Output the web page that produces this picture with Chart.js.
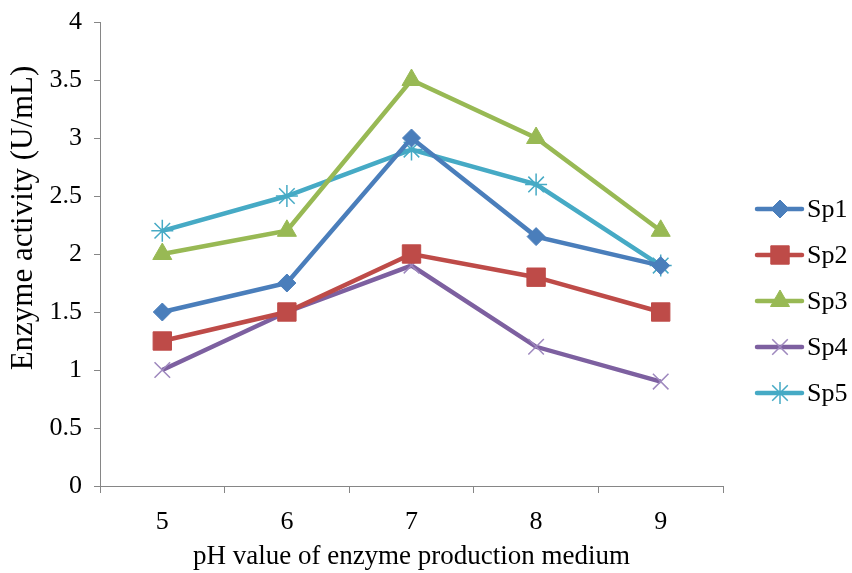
<!DOCTYPE html>
<html>
<head>
<meta charset="utf-8">
<script src="https://cdn.jsdelivr.net/npm/chart.js@4/dist/chart.umd.min.js"></script>
<style>
  html,body{margin:0;padding:0;background:#fff;}
  #wrap{width:852px;height:573px;position:relative;}
</style>
</head>
<body>
<div id="wrap"><canvas id="c" width="852" height="573"></canvas></div>
<script>
// pH categories and enzyme activity per strain
const phLabels=['5','6','7','8','9'];
const sp1=[1.5,1.75,3.0,2.15,1.9];
const sp2=[1.25,1.5,2.0,1.8,1.5];
const sp3=[2.0,2.2,3.5,3.0,2.2];
const sp4=[1.0,1.5,1.9,1.2,0.9];
const sp5=[2.2,2.5,2.9,2.6,1.9];
const seriesNames=['Sp1','Sp2','Sp3','Sp4','Sp5'];
const yTitle='Enzyme activity (U/mL)';

const FONT='"Liberation Serif", "Times New Roman", serif';

function ds(label,data,color,ptColor,style,radius){
  return {label,data,borderColor:color,backgroundColor:ptColor,pointBackgroundColor:ptColor,pointBorderColor:ptColor,
    pointStyle:style,pointRadius:radius,pointHoverRadius:radius,pointBorderWidth:style==='crossRot'||style==='star'?1.5:1,
    borderWidth:4.5,tension:0};
}

// legend drawn by hand: line + marker + name, like the office-style legend
// the y title is drawn here too since it sits above the axis middle in the original
const legendPlugin={
  id:'sideLegend',
  afterDraw(chart){
    const ctx=chart.ctx;
    chart.data.datasets.forEach((d,i)=>{
      const y=209+i*46;
      ctx.save();
      ctx.strokeStyle=d.borderColor;ctx.lineWidth=4.5;ctx.lineCap='round';
      ctx.beginPath();ctx.moveTo(757,y);ctx.lineTo(802,y);ctx.stroke();
      ctx.restore();
      ctx.save();
      ctx.fillStyle=d.pointBackgroundColor;ctx.strokeStyle=d.pointBorderColor;ctx.lineWidth=d.pointBorderWidth;
      Chart.helpers.drawPoint(ctx,{pointStyle:d.pointStyle,radius:d.pointRadius,borderWidth:d.pointBorderWidth,rotation:0},780,y);
      ctx.restore();
      ctx.save();
      ctx.fillStyle='#000';ctx.font='26px '+FONT;ctx.textBaseline='middle';
      ctx.fillText(d.label,807,y+1);
      ctx.restore();
    });
    ctx.save();
    ctx.translate(24,218);ctx.rotate(-Math.PI/2);
    ctx.fillStyle='#000';ctx.font='31px '+FONT;ctx.textAlign='center';ctx.textBaseline='middle';
    ctx.fillText(yTitle,0,0);
    ctx.restore();
  }
};

new Chart(document.getElementById('c'),{
  type:'line',
  data:{labels:phLabels,datasets:[
    ds(seriesNames[0],sp1,'#4A7EBB','#4A7EBB','rectRot',9),
    ds(seriesNames[1],sp2,'#BE4B48','#BE4B48','rect',13),
    ds(seriesNames[2],sp3,'#98B954','#98B954','triangle',11),
    ds(seriesNames[3],sp4,'#7D60A0','#9E88BE','crossRot',11),
    ds(seriesNames[4],sp5,'#46AAC5','#46AAC5','star',11)
  ]},
  options:{
    responsive:false,animation:false,
    layout:{padding:{top:22,right:129,left:0,bottom:0}},
    plugins:{legend:{display:false},tooltip:{enabled:false}},
    scales:{
      x:{offset:true,
        grid:{offset:true,drawOnChartArea:false,drawTicks:true,tickLength:7,color:'#868686'},
        border:{color:'#868686',width:1},
        ticks:{color:'#000',font:{family:FONT,size:26},padding:14},
        title:{display:true,text:'pH value of enzyme production medium',color:'#000',font:{family:FONT,size:27},padding:{top:0,bottom:0}},
        afterFit(s){s.height=87;}
      },
      y:{min:0,max:4,
        grid:{drawOnChartArea:false,drawTicks:true,tickLength:6,color:'#868686'},
        border:{color:'#868686',width:1},
        ticks:{stepSize:0.5,color:'#000',font:{family:FONT,size:26},padding:12,callback:v=>String(v)},
        title:{display:false},
        afterFit(s){s.width=100;s.paddingTop=0;s.paddingBottom=0;}
      }
    }
  },
  plugins:[legendPlugin]
});
</script>
</body>
</html>
